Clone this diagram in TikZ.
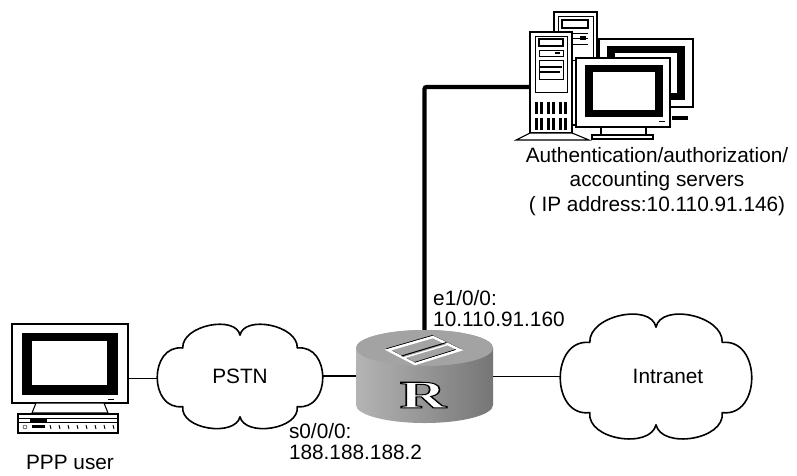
\documentclass[tikz,border=0pt]{standalone}
\usepackage{fontspec}
\setmainfont{Liberation Sans}
\newfontfamily\routerfont{Liberation Serif Bold}[FakeBold=2.6]
\usetikzlibrary{positioning,calc}
\definecolor{rtTop}{RGB}{163,163,163}
\definecolor{rtSide}{RGB}{137,137,137}
\definecolor{rtEdge}{RGB}{180,180,180}
\definecolor{rtDark}{RGB}{118,118,118}

% cloud outline round a node: #1 node, #2 half width, #3 half height
\newcommand\cloudline[3]{%
  \draw[cloudedge, shift={(#1.center)}, xscale=#2, yscale=#3]
    (-0.69,-0.55) .. controls (-0.70,-1.00) and (-0.05,-1.20) .. (0,-0.80)
    .. controls (0.05,-1.20) and (0.70,-1.00) .. (0.69,-0.55)
    .. controls (1.10,-0.62) and (1.10,0.68) .. (0.69,0.60)
    .. controls (0.72,1.05) and (0.06,1.20) .. (0,0.80)
    .. controls (-0.06,1.20) and (-0.72,1.05) .. (-0.69,0.60)
    .. controls (-1.10,0.68) and (-1.10,-0.62) .. (-0.69,-0.55) -- cycle;}

\tikzset{
  lbl/.style={font=\fontsize{20.8}{21}\selectfont, inner sep=0pt},
  cloudedge/.style={line width=1.6pt, line join=round, fill=white},
  link/.style={line width=1.3pt},
  uplink/.style={line width=4.2pt, rounded corners=2pt},
  box/.style={draw, line width=1.1pt, fill=white},
  area/.style={inner sep=0pt},
}

\begin{document}
\begin{tikzpicture}[x=1pt,y=-1pt]
\useasboundingbox (0,0) rectangle (797,475);

% PPP user terminal
\node[area, minimum width=116, minimum height=109] (pc) at (70,378.5) {};
\draw[box] (12,324) rectangle (128,403);
\fill (22,333) rectangle (118,395);
\fill[white] (32,341) rectangle (107,385);
\draw[line width=1pt] (108,399) -- (114,399);
\draw[box] (36,403) -- (104,403) -- (108,413) -- (32,413) -- cycle;
\draw[box] (18,414) rectangle (118,433);
\draw (18,418) -- (118,418) (18,422) -- (118,422);
\fill (30,418) rectangle (47,422);
\fill (32,425) rectangle (45,428);
\draw (25,427) circle (2);
\foreach \x in {50,59,...,113}
  \draw[line width=0.9pt] (\x,425) -- (\x+1,429);
\node[lbl, below=22pt of pc] (pclabel) {PPP user};

% clouds
\node[area, minimum width=166, minimum height=102] (pstn) at (240,376) {};
\cloudline{pstn}{83}{51}
\node[lbl] (pstnlabel) at (pstn) {PSTN};
\node[area, minimum width=192, minimum height=122] (intranet) at (656,376) {};
\cloudline{intranet}{96}{61}
\node[lbl, xshift=12pt] (intralabel) at (intranet) {Intranet};

% router
\node[area, minimum width=137, minimum height=93] (router) at (424.5,376.5) {};
\shade[left color=rtEdge, middle color=rtSide, right color=rtDark]
  (356,348) -- (356,405) arc[start angle=180, end angle=0, x radius=68.5, y radius=18]
  -- (493,348) arc[start angle=0, end angle=-180, x radius=68.5, y radius=18] -- cycle;
\fill[rtTop] (424.5,348) ellipse[x radius=68.5, y radius=18];
\draw[line width=1pt, shift={(-0.8,-1.4)}] (388,350) -- (433,337) -- (460,350) -- (415,364) -- cycle;
\draw[white, line width=2.4pt] (388,350) -- (433,337) -- (460,350) -- (415,364) -- cycle;
\draw[line width=1pt] (401.5,356) -- (446.5,342.5);
\draw[white, line width=1.4pt] (402,358.3) -- (447,344.8);
\node[font=\routerfont\fontsize{39}{39}\selectfont, xscale=1.65, inner sep=0pt, text=white]
  (rmark) at (423,395) {\special{pdf:code 0 0 0 RG}R};

% AAA servers
\draw[box] (599,39) rectangle (693,107);
\fill (607,46) rectangle (685,100);
\fill[white] (615,53) rectangle (677,93);
\fill (672,116) rectangle (688,120);
\draw[box] (554,12) rectangle (597,125);
\draw (558,16) rectangle (593,60);
\draw[line width=1.5pt] (562,20) rectangle (588,28);
\draw (562,33) -- (588,33) (562,38) -- (588,38) (562,44) -- (588,44);
\fill (580,36) rectangle (586,40);
\node[area, minimum width=42, minimum height=101] (tower) at (551,82.5) {};
\draw[box] (530,32) rectangle (572,133);
\draw (535,36) rectangle (567,92);
\draw[line width=1.2pt] (539,39) rectangle (563,46);
\draw (539,50) rectangle (563,56);
\fill (555,52) rectangle (560,54);
\draw (539,60) rectangle (563,79);
\fill (540,66) rectangle (562,68);
\fill (540,71) rectangle (560,73);
\foreach \x in {535,547,559}
  \foreach \y in {102,118} {
    \fill (\x,\y) rectangle +(3,12);
    \fill (\x+5,\y) rectangle +(3,12);
  }
\draw[box] (530,133) -- (516,140) -- (589,140) -- (572,133) -- cycle;
\draw[box] (576,58) rectangle (670,127);
\fill (585,65) rectangle (663,117);
\fill[white] (593,72) rectangle (655,110);
\draw[line width=1pt] (659,121) -- (665,121);
\draw[box] (601,127) rectangle (646,135);
\draw[box] (592,135) rectangle (653,139);
\node[lbl, align=center, font=\fontsize{20.8}{24.5}\selectfont, anchor=north]
  (srvlabel) at (657,147) {Authentication/authorization/\\accounting servers\\( IP address:10.110.91.146)};

% interface labels
\node[lbl, align=left, above right=3pt and 8.5pt of router.north] (ethlabel) {e1/0/0:\\10.110.91.160};
\node[lbl, align=left, anchor=north west] (serlabel) at ([xshift=-67pt]router.south west) {s0/0/0:\\188.188.188.2};

% links
\draw[link] (pc.east) -- (pc.east -| pstn.west);
\draw[link] (pstn.east) -- (pstn.east -| router.west);
\draw[link] (router.east) -- (router.east -| intranet.west);
\draw[uplink] (router.north) |- ([yshift=-4.5pt]tower.west);
\end{tikzpicture}
\end{document}
